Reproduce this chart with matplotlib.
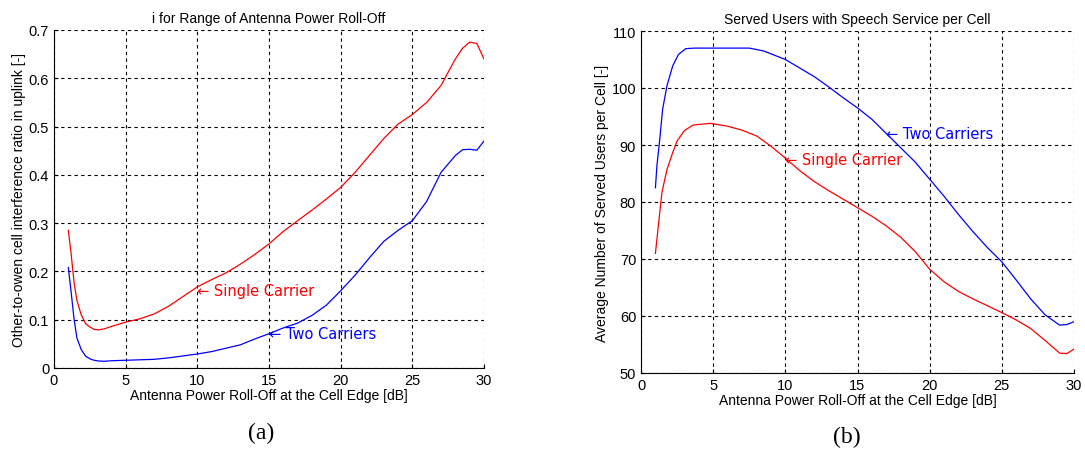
import numpy as np
import matplotlib.pyplot as plt

# (a) other-to-own cell interference ratio
x_a = [1, 1.2, 1.4, 1.6, 1.9, 2.2, 2.5, 2.8, 3.1, 3.5, 4, 5, 6, 7, 8, 9, 10, 11, 12,
       13, 14, 15, 16, 17, 18, 19, 20, 21, 22, 23, 24, 25, 26, 27, 28, 28.5, 29,
       29.5, 30]
single_a = [0.285, 0.235, 0.177, 0.140, 0.110, 0.092, 0.085, 0.080, 0.079, 0.081,
            0.086, 0.095, 0.102, 0.112, 0.128, 0.148, 0.168, 0.183, 0.197, 0.215,
            0.235, 0.257, 0.283, 0.305, 0.327, 0.350, 0.374, 0.405, 0.440, 0.475,
            0.505, 0.525, 0.550, 0.585, 0.640, 0.662, 0.675, 0.672, 0.640]
two_a = [0.208, 0.156, 0.101, 0.062, 0.038, 0.025, 0.019, 0.016, 0.0145, 0.014,
         0.015, 0.016, 0.017, 0.018, 0.021, 0.025, 0.029, 0.034, 0.041, 0.048,
         0.060, 0.071, 0.083, 0.093, 0.109, 0.130, 0.160, 0.192, 0.228, 0.262,
         0.285, 0.305, 0.345, 0.405, 0.440, 0.452, 0.453, 0.451, 0.470]

# (b) served users per cell
x_b = [1, 1.1, 1.3, 1.5, 1.8, 2.2, 2.6, 3.1, 3.7, 5, 6, 7, 7.5, 8.5, 9, 10, 11, 12,
       13, 14, 15, 16, 17, 18, 19, 20, 21, 22, 23, 24, 25, 26, 27, 28, 29, 29.5, 30]
two_b = [82.5, 86.3, 91, 96.3, 100.4, 103.9, 105.9, 106.9, 107, 107, 107, 107, 107,
         106.5, 106, 105, 103.5, 102, 100.2, 98.3, 96.5, 94.5, 92, 89.5, 87, 84, 81,
         77.8, 74.8, 72, 69.5, 66.3, 63, 60.2, 58.4, 58.5, 59]
x_b2 = [1, 1.2, 1.45, 1.8, 2.2, 2.5, 3, 3.6, 4.8, 6, 7, 8, 9, 10, 11, 12, 13, 14,
        15, 16, 17, 18, 19, 20, 21, 22, 23, 24, 25, 26, 27, 28, 29, 29.5, 30]
single_b = [71, 75.8, 81.7, 85.7, 88.7, 90.7, 92.5, 93.5, 93.8, 93.3, 92.6, 91.6,
            89.8, 87.7, 85.5, 83.6, 82, 80.5, 79, 77.5, 75.8, 73.8, 71.3, 68.2, 66,
            64.3, 63, 61.8, 60.6, 59.3, 57.8, 55.7, 53.5, 53.4, 54.2]

plt.rcParams['font.family'] = ['Liberation Sans', 'DejaVu Sans']

fig = plt.figure(figsize=(10.85, 4.52), dpi=100)
ax1 = fig.add_axes([54 / 1085, 1 - 369 / 452, 430 / 1085, 338 / 452])
ax2 = fig.add_axes([641 / 1085, 1 - 374 / 452, 433 / 1085, 342 / 452])


def style(ax):
    ax.spines['top'].set_visible(False)
    ax.spines['right'].set_visible(False)
    ax.grid(True, color='black', linestyle=(0, (3, 3)), linewidth=0.8)
    ax.tick_params(direction='in', labelsize=10.5, length=3)
    ax.set_xlim(0, 30)
    ax.set_xticks([0, 5, 10, 15, 20, 25, 30])
    ax.set_xlabel('Antenna Power Roll-Off at the Cell Edge [dB]', fontsize=10, labelpad=1)


ax1.plot(x_a, single_a, color='red', linewidth=0.9)
ax1.plot(x_a, two_a, color='blue', linewidth=0.9)
style(ax1)
ax1.set_ylim(0, 0.7)
ax1.set_yticks(np.arange(0, 0.71, 0.1))
ax1.set_yticklabels(['0', '0.1', '0.2', '0.3', '0.4', '0.5', '0.6', '0.7'])
ax1.set_ylabel('Other-to-owen cell interference ratio in uplink [-]', fontsize=10, labelpad=2)
ax1.set_title('i for Range of Antenna Power Roll-Off', fontsize=10, pad=6)
ax1.text(10, 0.161, '\u2190 Single Carrier', color='red', fontsize=10.5, va='center',
         family=['DejaVu Sans'])
ax1.text(15, 0.071, '\u2190 Two Carriers', color='blue', fontsize=10.5, va='center',
         family=['DejaVu Sans'])

ax2.plot(x_b, two_b, color='blue', linewidth=0.9)
ax2.plot(x_b2, single_b, color='red', linewidth=0.9)
style(ax2)
ax2.set_ylim(50, 110)
ax2.set_yticks(np.arange(50, 111, 10))
ax2.set_ylabel('Average Number of Served Users per Cell [-]', fontsize=10, labelpad=2)
ax2.set_title('Served Users with Speech Service per Cell', fontsize=10, pad=6)
ax2.text(17, 92.1, '\u2190 Two Carriers', color='blue', fontsize=10.5, va='center',
         family=['DejaVu Sans'])
ax2.text(10, 87.5, '\u2190 Single Carrier', color='red', fontsize=10.5, va='center',
         family=['DejaVu Sans'])

fig.text(261 / 1085, 1 - 433 / 452, '(a)', family='Liberation Serif', fontsize=17,
         ha='center', va='center')
fig.text(847 / 1085, 1 - 437 / 452, '(b)', family='Liberation Serif', fontsize=17,
         ha='center', va='center')

fig.savefig('out.png', dpi=100)
